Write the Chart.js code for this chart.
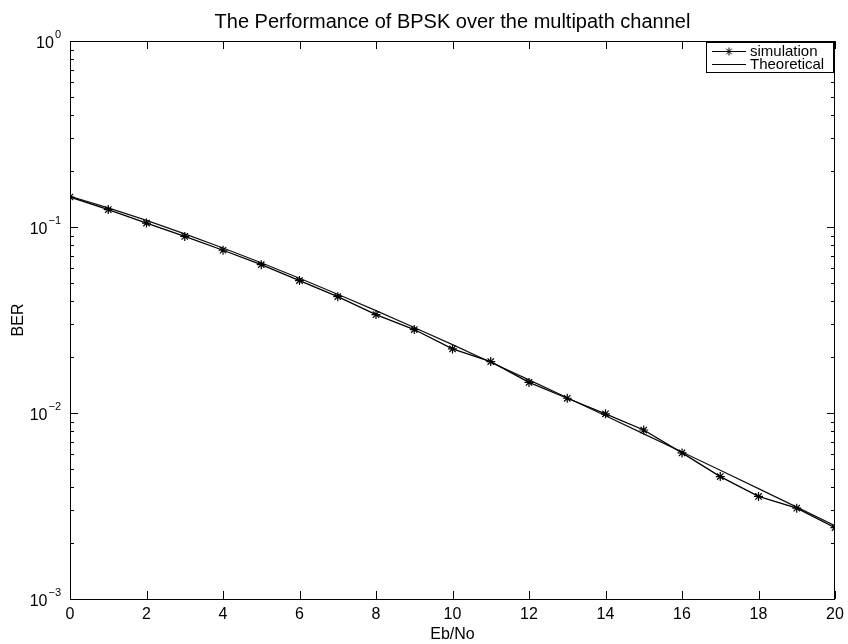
<!DOCTYPE html>
<html>
<head>
<meta charset="utf-8">
<title>BPSK multipath</title>
<script src="https://cdn.jsdelivr.net/npm/chart.js@4.4.1/dist/chart.umd.min.js"></script>
<style>
  html, body { margin: 0; padding: 0; background: #fff; }
  #grafica { display: block; }
</style>
</head>
<body>
<canvas id="grafica" width="848" height="644"></canvas>
<script>
// datos
const ebno = [0, 1, 2, 3, 4, 5, 6, 7, 8, 9, 10, 11, 12, 13, 14, 15, 16, 17, 18, 19, 20];
const simulacion = [0.145, 0.124, 0.105, 0.089, 0.075, 0.0627, 0.0515, 0.0422, 0.0338, 0.0281,
                    0.0221, 0.0189, 0.0146, 0.0120, 0.0099, 0.0081, 0.0061, 0.00455, 0.00356, 0.00308, 0.00242];
const teorica = [0.1464, 0.1267, 0.1085, 0.0919, 0.0771, 0.0642, 0.0530, 0.0435, 0.0355, 0.0288,
                 0.0233, 0.01875, 0.01507, 0.01208, 0.00966, 0.00772, 0.00617, 0.00492, 0.00392, 0.00312, 0.00248];
const ticksX = [0, 2, 4, 6, 8, 10, 12, 14, 16, 18, 20];
const decadasY = [0, -1, -2, -3];

const FUENTE = '"Liberation Sans", Arial, Helvetica, sans-serif';

const puntos = (ys) => ebno.map((x, i) => ({ x, y: ys[i] }));

// ejes estilo matlab: caja, marcas hacia dentro, etiquetas y leyenda
const ejesMatlab = {
  id: 'ejesMatlab',
  afterDraw(chart) {
    const { ctx, chartArea: a, scales } = chart;
    const sx = scales.x, sy = scales.y;
    ctx.save();
    ctx.strokeStyle = '#000';
    ctx.lineWidth = 1;

    // caja
    ctx.strokeRect(Math.round(a.left) + 0.5, Math.round(a.top) + 0.5,
                   Math.round(a.right - a.left) - 1, Math.round(a.bottom - a.top));

    // marcas eje x (abajo y arriba)
    ctx.beginPath();
    ticksX.forEach(v => {
      const px = Math.round(sx.getPixelForValue(v)) + 0.5;
      ctx.moveTo(px, a.bottom); ctx.lineTo(px, a.bottom - 8);
      ctx.moveTo(px, a.top); ctx.lineTo(px, a.top + 8);
    });
    // marcas eje y: decadas y menores
    decadasY.forEach(d => {
      const py = Math.round(sy.getPixelForValue(Math.pow(10, d))) + 0.5;
      ctx.moveTo(a.left, py); ctx.lineTo(a.left + 8, py);
      ctx.moveTo(a.right, py); ctx.lineTo(a.right - 8, py);
    });
    [-3, -2, -1].forEach(d => {
      for (let m = 2; m <= 9; m++) {
        const py = Math.round(sy.getPixelForValue(m * Math.pow(10, d))) + 0.5;
        ctx.moveTo(a.left, py); ctx.lineTo(a.left + 4, py);
        ctx.moveTo(a.right, py); ctx.lineTo(a.right - 4, py);
      }
    });
    ctx.stroke();

    ctx.fillStyle = '#000';
    ctx.textBaseline = 'middle';

    // etiquetas del eje x
    ctx.font = '16px ' + FUENTE;
    ctx.textAlign = 'center';
    ticksX.forEach(v => {
      ctx.fillText(String(v), sx.getPixelForValue(v), a.bottom + 16);
    });

    // etiquetas del eje y (10 con exponente)
    decadasY.forEach(d => {
      const py = sy.getPixelForValue(Math.pow(10, d));
      const exp = d === 0 ? '0' : '\u2212' + Math.abs(d);
      ctx.font = '11px ' + FUENTE;
      ctx.textAlign = 'right';
      const wExp = ctx.measureText(exp).width;
      ctx.fillText(exp, 61, py - 6);
      ctx.font = '16px ' + FUENTE;
      ctx.fillText('10', 61 - wExp - 1, py + 3);
    });

    // titulo eje y
    ctx.save();
    ctx.translate(19, (a.top + a.bottom) / 2);
    ctx.rotate(-Math.PI / 2);
    ctx.textAlign = 'center';
    ctx.font = '16px ' + FUENTE;
    ctx.fillText('BER', 0, 0);
    ctx.restore();

    // leyenda
    const lx = 706, ly = 42, lw = 127, lh = 30;
    ctx.fillStyle = '#fff';
    ctx.fillRect(lx, ly, lw, lh);
    ctx.strokeRect(lx + 0.5, ly + 0.5, lw, lh);
    const filas = [
      { texto: 'simulation', y: ly + 9, estrella: true },
      { texto: 'Theoretical', y: ly + 22, estrella: false }
    ];
    filas.forEach(f => {
      ctx.beginPath();
      ctx.moveTo(lx + 6, f.y + 0.5); ctx.lineTo(lx + 40, f.y + 0.5);
      ctx.stroke();
      if (f.estrella) {
        const cx = lx + 23, cy = f.y + 0.5, r = 4;
        ctx.beginPath();
        ctx.moveTo(cx - r, cy); ctx.lineTo(cx + r, cy);
        ctx.moveTo(cx, cy - r); ctx.lineTo(cx, cy + r);
        const k = r * 0.707;
        ctx.moveTo(cx - k, cy - k); ctx.lineTo(cx + k, cy + k);
        ctx.moveTo(cx - k, cy + k); ctx.lineTo(cx + k, cy - k);
        ctx.stroke();
      }
      ctx.fillStyle = '#000';
      ctx.textAlign = 'left';
      ctx.font = '15px ' + FUENTE;
      ctx.fillText(f.texto, lx + 44, f.y + 1);
    });
    ctx.restore();
  }
};

new Chart(document.getElementById('grafica'), {
  type: 'line',
  data: {
    datasets: [
      {
        label: 'simulation',
        data: puntos(simulacion),
        borderColor: '#000',
        borderWidth: 1.3,
        pointStyle: 'star',
        pointRadius: 4.5,
        pointBorderColor: '#000',
        pointBorderWidth: 1.2,
        fill: false,
        tension: 0
      },
      {
        label: 'Theoretical',
        data: puntos(teorica),
        borderColor: '#111',
        borderWidth: 1.2,
        pointRadius: 0,
        fill: false,
        tension: 0
      }
    ]
  },
  options: {
    responsive: false,
    animation: false,
    layout: { padding: { left: 0, right: 13, top: 0, bottom: 0 } },
    plugins: {
      legend: { display: false },
      tooltip: { enabled: false },
      title: {
        display: true,
        fullSize: false,
        text: 'The Performance of BPSK over the multipath channel',
        color: '#000',
        font: { family: FUENTE, size: 20, weight: 'normal' },
        padding: { top: 10, bottom: 7 }
      }
    },
    scales: {
      x: {
        type: 'linear',
        min: 0,
        max: 20,
        grid: { display: false, drawTicks: false },
        border: { display: false },
        ticks: { display: false },
        title: {
          display: true,
          text: 'Eb/No',
          color: '#000',
          font: { family: FUENTE, size: 16 },
          padding: { top: 0, bottom: 0 }
        },
        afterFit: s => { s.height = 45; }
      },
      y: {
        type: 'logarithmic',
        min: 0.001,
        max: 1,
        grid: { display: false },
        border: { display: false },
        ticks: { display: false },
        afterFit: s => { s.width = 70; }
      }
    }
  },
  plugins: [ejesMatlab]
});
</script>
</body>
</html>
